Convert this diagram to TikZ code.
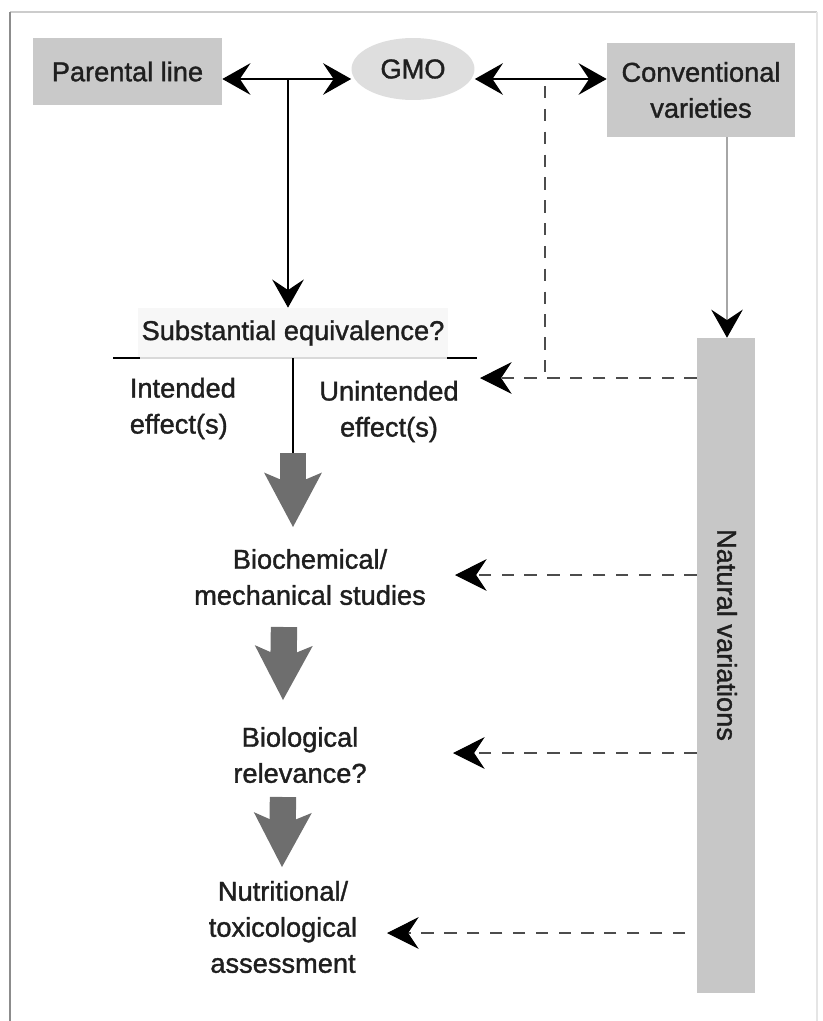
\documentclass[tikz,border=0pt]{standalone}
\usepackage{fontspec}
\setmainfont{Liberation Sans}[FakeBold=1.3]
\usetikzlibrary{arrows.meta,shapes.geometric}

\tikzset{
  lbl/.style={align=center, text=black!88, inner sep=2pt, font=\fontsize{15.5pt}{20.5pt}\selectfont},
  greybox/.style={lbl, fill=black!21, inner sep=0pt},
  dblarrow/.style={line width=0.75pt, {Stealth[length=16pt, width=18pt, inset=6pt]}-{Stealth[length=16pt, width=18pt, inset=6pt]}},
  downarrow/.style={line width=0.75pt, -{Stealth[length=16pt, width=18pt, inset=6pt]}},
  greyarrow/.style={black!35, line width=0.6pt, -{Stealth[length=16pt, width=18pt, inset=6pt, black]}},
  dashline/.style={black!70, line width=0.6pt, dash pattern=on 7pt off 6pt},
  dasharrow/.style={dashline, -{Stealth[length=18pt, width=18pt, inset=6pt, black]}},
  fatarrow/.style={black!57, line width=15pt, -{Stealth[length=31pt, width=33pt, inset=7pt, line width=0pt]}}
}

\begin{document}
\begin{tikzpicture}[x=0.02cm, y=-0.02cm]
			%%%%% START %%%%%
			\useasboundingbox (0, 0) rectangle (822, 1021);
			
			% frame
			\draw[black!20, line width=1.2pt] (10, 12) -- (817, 12);
			\draw[black!45, line width=0.9pt] (10, 12) -- (10, 1021);
			\draw[black!10, line width=0.8pt] (817, 12) -- (817, 1021);
			
			% top row
			\node[greybox, minimum width=3.78cm, minimum height=1.34cm] (par) at (127.5, 71.5) {Parental line};
			\node[greybox, ellipse, fill=black!13, minimum width=2.46cm, minimum height=1.24cm] (gmo) at (413, 69) {GMO};
			\node[greybox, minimum width=3.76cm, minimum height=1.88cm] (conv) at (701, 90) {Conventional\\varieties};
			
			% natural variations bar
			\node[fill=black!22, minimum width=1.16cm, minimum height=13.1cm, inner sep=0pt] (nat) at (726, 665.5) {};
			\node[lbl, rotate=-90] (natlbl) at (727, 635) {Natural variations};
			
			% steps
			\node[lbl, fill=black!3, minimum width=6.14cm, minimum height=1cm] (subst) at (293, 333) {Substantial equivalence?};
			\node[lbl, align=left, anchor=west] (intd) at (126, 408.5) {Intended\\effect(s)};
			\node[lbl] (unintd) at (389, 411.5) {Unintended\\effect(s)};
			\node[lbl] (biochem) at (310, 577) {Biochemical/\\mechanical studies};
			\node[lbl] (biol) at (300, 755) {Biological\\relevance?};
			\node[lbl] (nutr) at (283, 927) {Nutritional/\\toxicological\\assessment};
			
			\coordinate (y0) at (0, 79);
			\coordinate (pj) at (288, 79);
			\coordinate (gc) at (545, 86);
			\coordinate (f1) at (293, 453);
			\coordinate (t1) at (480, 378);
			\coordinate (t2) at (455, 575);
			\coordinate (t3) at (453, 753);
			\coordinate (t4) at (387, 933);
			\coordinate (t4s) at (685, 933);
			
			\draw[dblarrow] (par.east |- y0) -- (gmo.west |- y0);
			\draw[dblarrow] (gmo.east |- y0) -- (conv.west |- y0);
			\draw[downarrow] (pj) -- (pj |- subst.north);
			\draw[greyarrow] (conv.south -| natlbl) -- (nat.north -| natlbl);
			
			% underline of substantial equivalence
			\draw[black!15, line width=0.8pt] (113, 358) -- (477, 358);
			\draw[line width=0.9pt] (113, 358) -- (140, 358) (447, 358) -- (477, 358);
			\draw[line width=0.75pt] (subst.south -| f1) -- (f1);
			
			\draw[fatarrow] (f1) -- (293, 527);
			\draw[fatarrow] (284, 627) -- (283, 700);
			\draw[fatarrow] (283, 797) -- (282, 867);
			
			\draw[dashline] (gc) -- (gc |- t1);
			\draw[dasharrow] (nat.west |- t1) -- (t1);
			\draw[dasharrow] (nat.west |- t2) -- (t2);
			\draw[dasharrow] (nat.west |- t3) -- (t3);
			\draw[dasharrow] (t4s) -- (t4);
			
			%%%%% END %%%%%
\end{tikzpicture}
\end{document}
